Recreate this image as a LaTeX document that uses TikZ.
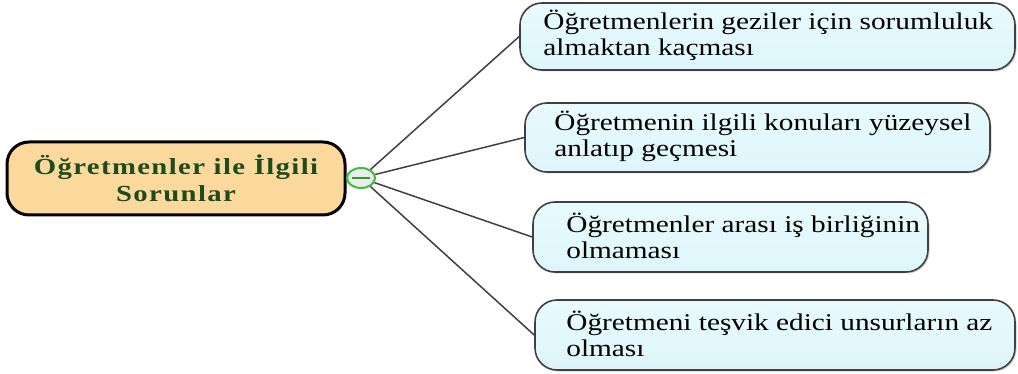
\documentclass[tikz,border=0pt]{standalone}
\usepackage{fontspec}
\usetikzlibrary{shapes.geometric,shadows}
\newfontfamily\childfont[FakeStretch=1.22]{Liberation Serif}
\newfontfamily\mainfont[FakeStretch=1.25,LetterSpace=6]{Liberation Serif}
\definecolor{orangefill}{HTML}{FBD99C}
\definecolor{cyanfill}{HTML}{DDF6FB}
\definecolor{cyantop}{HTML}{E8FAFD}
\definecolor{darkgreen}{HTML}{1F4A1C}
\definecolor{linegrey}{HTML}{404040}
\definecolor{minusgreen}{HTML}{3BBF3B}
\begin{document}
\begin{tikzpicture}[x=1pt,y=-1pt,
  childbox/.style={draw=linegrey, line width=1.6pt, rounded corners=22pt,
    top color=cyantop, bottom color=cyanfill, anchor=center,
    drop shadow={shadow xshift=1.5pt,shadow yshift=-1.5pt,opacity=0.35}},
  childtext/.style={font=\childfont\fontsize{24}{26.5}\selectfont, align=left,
    inner sep=0pt, anchor=west},
  mainbox/.style={draw=black, line width=3pt, rounded corners=22pt, fill=orangefill,
    font=\mainfont\bfseries\fontsize{23}{27}\selectfont, text=darkgreen, align=center},
  conn/.style={draw=linegrey, line width=1.5pt}
]
\useasboundingbox (0,0) rectangle (1018,374);
\node[mainbox, minimum width=338pt, minimum height=73pt] (c) at (176,178.5)
  {Öğretmenler ile İlgili\\Sorunlar};
\node[ellipse, draw=minusgreen, line width=2pt, fill=white!85!gray,
  minimum width=28pt, minimum height=20pt, inner sep=0pt] (m) at (361,178) {};
\draw[minusgreen!80!black, line width=2.5pt] (352,178) -- (370,178);

\node[childbox, minimum width=495pt, minimum height=67pt] (b1) at (767.5,36.5) {};
\node[childbox, minimum width=465pt, minimum height=69pt] (b2) at (757.5,137.5) {};
\node[childbox, minimum width=395pt, minimum height=70pt] (b3) at (730.5,237) {};
\node[childbox, minimum width=480pt, minimum height=70pt] (b4) at (775,335) {};

\node[childtext] (t1) at ([xshift=24pt,yshift=1pt]b1.west)
  {Öğretmenlerin geziler için sorumluluk\\almaktan kaçması};
\node[childtext] (t2) at ([xshift=30pt,yshift=1pt]b2.west)
  {Öğretmenin ilgili konuları yüzeysel\\anlatıp geçmesi};
\node[childtext] (t3) at ([xshift=34pt,yshift=1pt]b3.west)
  {Öğretmenler arası iş birliğinin\\olmaması};
\node[childtext] (t4) at ([xshift=32pt,yshift=1pt]b4.west)
  {Öğretmeni teşvik edici unsurların az\\olması};

\draw[conn] (m) -- (b1.west);
\draw[conn] (m) -- (b2.west);
\draw[conn] (m) -- (b3.west);
\draw[conn] (m) -- (b4.west);
\end{tikzpicture}
\end{document}
